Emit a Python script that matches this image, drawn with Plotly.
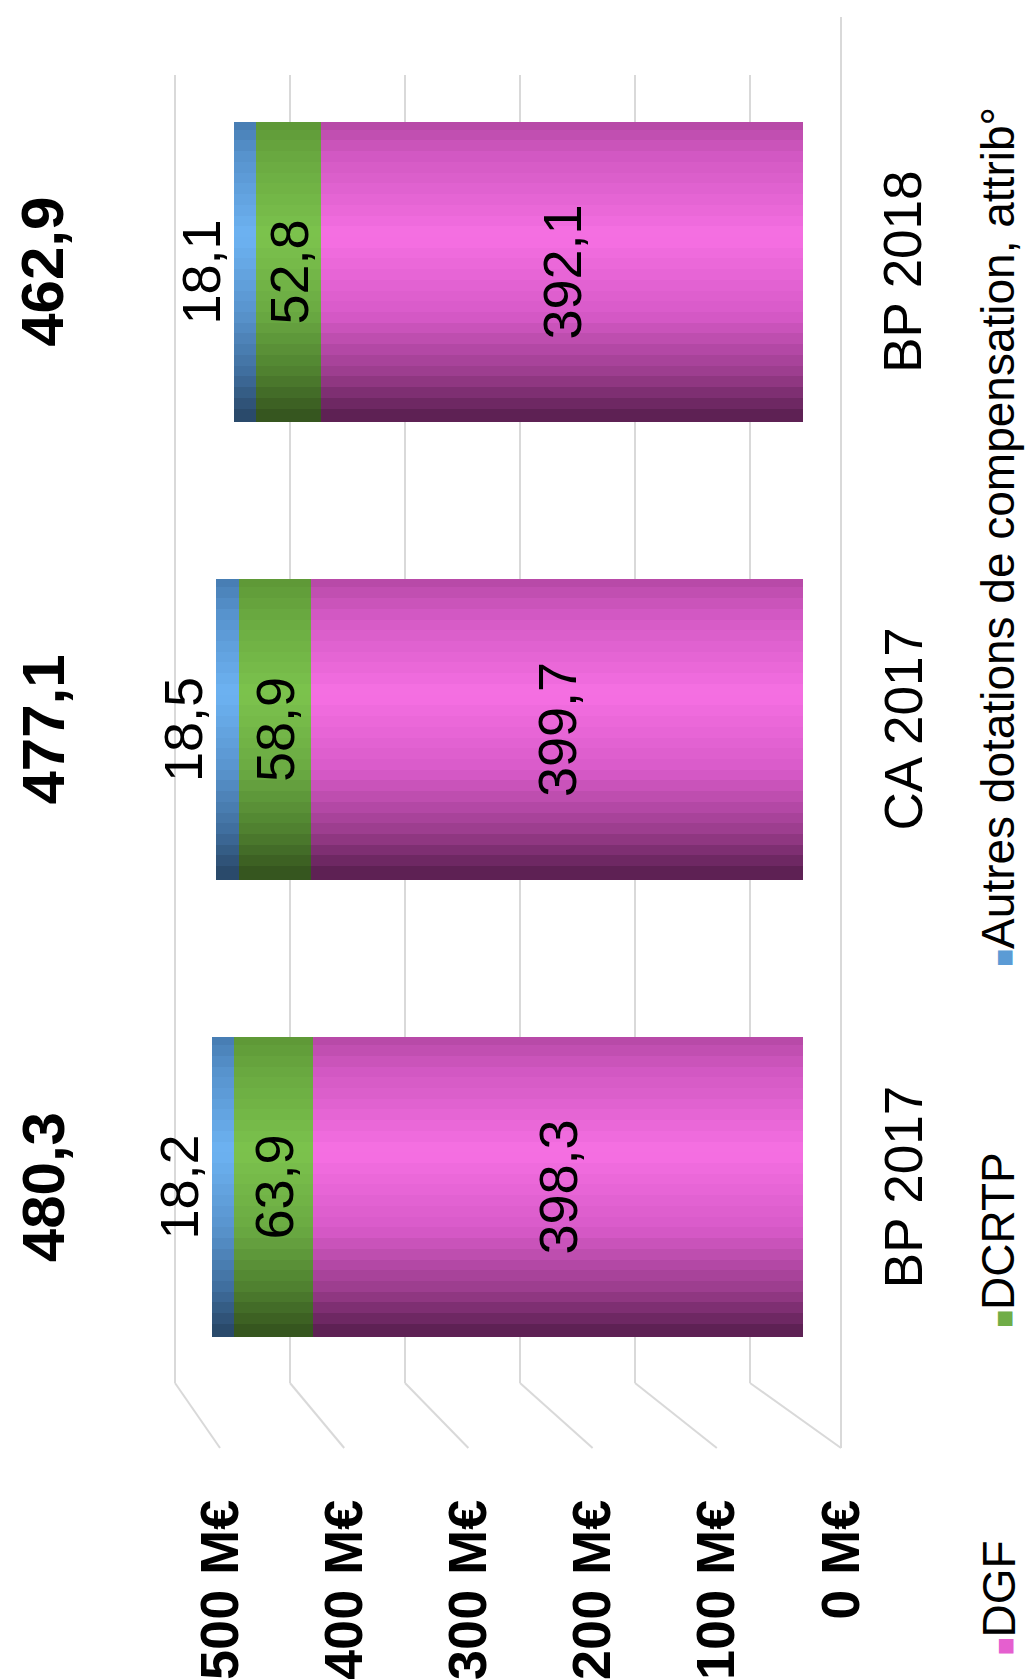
import plotly.graph_objects as go

# ---------------- data ----------------
categories = ["BP 2017", "CA 2017", "BP 2018"]
dgf = [398.3, 399.7, 392.1]
dcrtp = [63.9, 58.9, 52.8]
autres = [18.2, 18.5, 18.1]
totals = [480.3, 477.1, 462.9]
series_names = ["DGF", "DCRTP", "Autres dotations de compensation, attrib°"]
tick_values = [0, 100, 200, 300, 400, 500]

# ---------------- layout constants ----------------
W, H = 1027, 1679
M_T, M_B = 43, 263
PLOT_H = H - M_T - M_B
FONT = "Liberation Sans, Arial, sans-serif"

def axis_range(px_zero, px_per_unit):
    return [px_zero / px_per_unit, (px_zero - W) / px_per_unit]

BAR_ZERO, BAR_K = 803, 1.23
LAB_ZERO, LAB_K = 841, 1.242
GRID_ZERO, GRID_K = 750, 1.15

def paper_x(px):
    return px / W

def paper_y(py):
    return (H - M_B - py) / PLOT_H

def fmt(v):
    return f"{v:.1f}".replace(".", ",")

def hex2rgb(h):
    h = h.lstrip("#")
    return [int(h[i:i + 2], 16) for i in (0, 2, 4)]

def grad(stops, t):
    for (t0, c0), (t1, c1) in zip(stops, stops[1:]):
        if t0 <= t <= t1:
            f = (t - t0) / (t1 - t0) if t1 > t0 else 0
            a, b = hex2rgb(c0), hex2rgb(c1)
            r = [round(a[i] + (b[i] - a[i]) * f) for i in range(3)]
            return "rgb(%d,%d,%d)" % tuple(r)
    return stops[-1][1]

BW = 0.656
half = BW / 2
N_SLICES = 28

gradients = {
    "DGF": [(0, "#b447a3"), (0.12, "#d158c2"), (0.39, "#f670e3"),
            (0.65, "#d75ac8"), (0.85, "#9a3c8c"), (1, "#561d4c")],
    "DCRTP": [(0, "#5d9636"), (0.12, "#69a840"), (0.39, "#7cc34d"),
              (0.65, "#6aa942"), (0.85, "#4e7f2f"), (1, "#33511d")],
    "Autres": [(0, "#457ab0"), (0.12, "#5792cc"), (0.39, "#6db3f2"),
               (0.65, "#5893cc"), (0.85, "#3f6d9c"), (1, "#274564")],
}
legend_colors = ["#e55fcf", "#70ad47", "#5b9bd5"]

base_dgf = [0] * len(dgf)
base_dcrtp = list(dgf)
base_autres = [a + b for a, b in zip(dgf, dcrtp)]

segments = [
    ("DGF", dgf, base_dgf, gradients["DGF"], "inside"),
    ("DCRTP", dcrtp, base_dcrtp, gradients["DCRTP"], "inside"),
    ("Autres", autres, base_autres, gradients["Autres"], "outside"),
]

fig = go.Figure()

step = BW / N_SLICES
eps = step * 0.25
for name, vals, base, stops, tpos in segments:
    for k in range(N_SLICES):
        top = half - k * step
        bot = top - step
        lo = max(bot - eps, -half)
        hi = min(top + eps, half)
        fig.add_trace(go.Bar(
            y=categories, x=vals, base=base, orientation="h",
            width=hi - lo, offset=lo,
            marker=dict(color=grad(stops, (k + 0.5) / N_SLICES), line=dict(width=0)),
            showlegend=False, hoverinfo="skip",
        ))

for name, vals, base, stops, tpos in segments:
    fig.add_trace(go.Bar(
        y=categories, x=vals, base=base, orientation="h",
        width=BW, offset=-half,
        marker=dict(color="rgba(0,0,0,0)", line=dict(width=0)),
        text=[fmt(v) for v in vals], textposition=tpos,
        insidetextanchor="middle", textangle=-90,
        textfont=dict(family=FONT, size=54, color="black"),
        constraintext="none", cliponaxis=False,
        showlegend=False, name=name,
    ))

# tick-label carrier (overlaid axis)
fig.add_trace(go.Scatter(x=[None], y=[None], xaxis="x2", showlegend=False))

shapes = []
GRID_TOP, GRID_KNEE, GRID_BOTTOM = 75, 1383, 1448
for v in tick_values:
    gx = GRID_ZERO - GRID_K * v
    lx = LAB_ZERO - LAB_K * v
    shapes.append(dict(type="line", xref="paper", yref="paper",
                       x0=paper_x(gx), x1=paper_x(gx),
                       y0=paper_y(GRID_TOP), y1=paper_y(GRID_KNEE),
                       line=dict(color="#d9d9d9", width=2), layer="below"))
    shapes.append(dict(type="line", xref="paper", yref="paper",
                       x0=paper_x(gx), x1=paper_x(lx),
                       y0=paper_y(GRID_KNEE), y1=paper_y(GRID_BOTTOM),
                       line=dict(color="#d9d9d9", width=2), layer="below"))
side_x = LAB_ZERO - LAB_K * tick_values[0]
shapes.append(dict(type="line", xref="paper", yref="paper",
                   x0=paper_x(side_x), x1=paper_x(side_x),
                   y0=paper_y(17), y1=paper_y(GRID_BOTTOM),
                   line=dict(color="#d9d9d9", width=2), layer="below"))

annotations = []
for cat, tot in zip(categories, totals):
    annotations.append(dict(x=paper_x(43), xref="paper", y=cat, yref="y",
                            text=fmt(tot), showarrow=False, textangle=-90,
                            xanchor="center", yanchor="middle",
                            font=dict(family=FONT, size=60, color="black", weight="bold")))
    annotations.append(dict(x=paper_x(903), xref="paper", y=cat, yref="y",
                            text=cat, showarrow=False, textangle=-90,
                            xanchor="center", yanchor="middle",
                            font=dict(family=FONT, size=53, color="black")))

legend_bottoms = [1658, 1330, 969]
for nm, col, bot in zip(series_names, legend_colors, legend_bottoms):
    annotations.append(dict(
        x=paper_x(998), xref="paper", y=paper_y(bot), yref="paper",
        text=f'<span style="color:{col};font-size:30px">■</span>{nm}',
        showarrow=False, textangle=-90, xanchor="center", yanchor="bottom",
        font=dict(family=FONT, size=46, color="black")))

fig.update_layout(
    width=W, height=H,
    margin=dict(l=0, r=0, t=M_T, b=M_B, pad=0),
    paper_bgcolor="white", plot_bgcolor="white",
    barmode="overlay", bargap=0,
    separators=", ",
    showlegend=False,
    xaxis=dict(range=axis_range(BAR_ZERO, BAR_K), visible=False, fixedrange=True),
    xaxis2=dict(range=axis_range(LAB_ZERO, LAB_K), overlaying="x", anchor="y",
                side="bottom", tickvals=tick_values,
                ticktext=[f"{v} M€" for v in tick_values],
                tickangle=-90, ticks="", showgrid=False, zeroline=False,
                showline=False, ticklabelstandoff=72,
                tickfont=dict(family=FONT, size=54, color="black", weight="bold")),
    yaxis=dict(type="category", categoryorder="array", categoryarray=categories,
               range=[-0.5, 2.5], visible=False),
    shapes=shapes,
    annotations=annotations,
)

fig.write_html("out.html")
